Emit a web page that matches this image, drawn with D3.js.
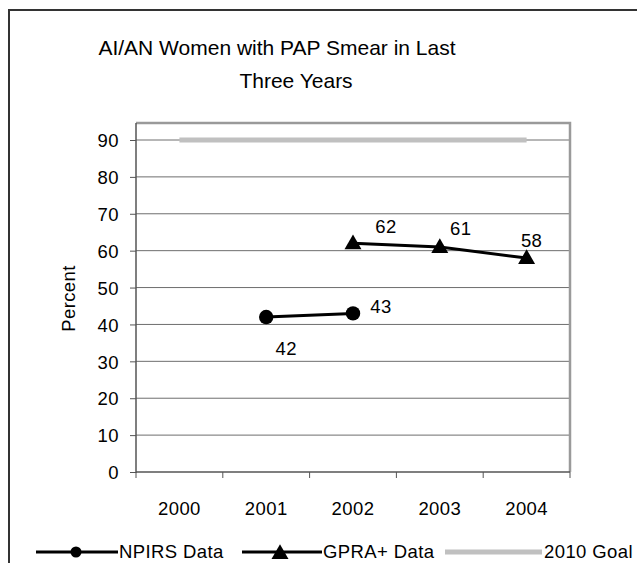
<!DOCTYPE html>
<html lang="en">
<head>
    <meta charset="UTF-8">
    <title>AI/AN Women with PAP Smear</title>
    <script src="https://d3js.org/d3.v7.min.js"></script>
    <style>
        body { margin: 0; background: #fff; }
        text { font-family: Arial, "Liberation Sans", sans-serif; fill: #000; }
        .lbl { font-size: 18.5px; letter-spacing: 0.4px; }
    </style>
</head>
<body>
<script>
    const years = ["2000", "2001", "2002", "2003", "2004"];
    const npirsYears = ["2001", "2002"];
    const npirsValues = [42, 43];
    const gpraYears = ["2002", "2003", "2004"];
    const gpraValues = [62, 61, 58];
    const goalYears = ["2000", "2001", "2002", "2003", "2004"];
    const goalValues = [90, 90, 90, 90, 90];
    const yTicks = [0, 10, 20, 30, 40, 50, 60, 70, 80, 90];
    const titleLines = ["AI/AN Women with PAP Smear in Last", "Three Years"];

    const width = 637, height = 563;
    const plot = {left: 136, right: 570, top: 123, bottom: 472};

    const svg = d3.select("body").append("svg").attr("width", width).attr("height", height);

    // outer chart frame (runs off the right/bottom of the picture)
    svg.append("path")
        .attr("d", `M9,${height + 5}V10H${width + 5}`)
        .attr("fill", "none").attr("stroke", "#333").attr("stroke-width", 2);

    const titleX = [277, 296];
    svg.append("g").selectAll("text")
        .data(titleLines)
        .join("text")
        .attr("x", (d, i) => titleX[i]).attr("y", (d, i) => 55 + i * 33)
        .attr("text-anchor", "middle")
        .style("font-size", "21px")
        .text(d => d);

    const x = d3.scalePoint().domain(years).range([plot.left, plot.right]).padding(0.5);
    const xb = d3.scaleBand().domain(years).range([plot.left, plot.right]);
    const y = d3.scaleLinear().domain([0, 90]).range([plot.bottom, 140]);

    // gridlines
    svg.append("g").selectAll("line")
        .data(yTicks.slice(1))
        .join("line")
        .attr("x1", plot.left).attr("x2", plot.right)
        .attr("y1", d => y(d)).attr("y2", d => y(d))
        .attr("stroke", "#6e6e6e").attr("stroke-width", 1);

    // plot frame top + right
    svg.append("path")
        .attr("d", `M${plot.left},${plot.top}H${plot.right}V${plot.bottom}`)
        .attr("fill", "none").attr("stroke", "#9a9a9a").attr("stroke-width", 2.5);

    // y axis
    const yAxis = svg.append("g")
        .attr("transform", `translate(${plot.left},0)`)
        .call(d3.axisLeft(y).tickValues(yTicks).tickSize(6).tickPadding(11));
    yAxis.select(".domain").attr("d", `M0,${plot.top}V${plot.bottom + 1}`).attr("stroke", "#555").attr("stroke-width", 1.5);
    yAxis.selectAll(".tick line").attr("stroke", "#555");
    yAxis.selectAll("text").attr("class", "lbl").attr("fill", "#000").attr("dy", "0.36em");

    // x axis, ticks at category boundaries
    const xAxis = svg.append("g")
        .attr("transform", `translate(0,${plot.bottom})`);
    xAxis.append("line")
        .attr("x1", plot.left).attr("x2", plot.right)
        .attr("stroke", "#555").attr("stroke-width", 1.5);
    xAxis.selectAll(".xt")
        .data(years.map(d => xb(d)).concat([plot.right]))
        .join("line").attr("class", "xt")
        .attr("x1", d => d).attr("x2", d => d)
        .attr("y1", 0).attr("y2", 6)
        .attr("stroke", "#555");
    xAxis.selectAll(".xl")
        .data(years)
        .join("text").attr("class", "xl lbl")
        .attr("x", d => x(d)).attr("y", 43)
        .attr("text-anchor", "middle")
        .text(d => d);

    svg.append("text")
        .attr("class", "lbl")
        .attr("transform", `translate(75,${(plot.top + plot.bottom) / 2 + 1}) rotate(-90)`)
        .attr("text-anchor", "middle")
        .text("Percent");

    // 2010 goal line
    const line = d3.line().x(d => x(d[0])).y(d => y(d[1]));
    svg.append("path")
        .datum(d3.zip(goalYears, goalValues))
        .attr("d", line)
        .attr("fill", "none").attr("stroke", "#c0c0c0").attr("stroke-width", 5);

    const tri = d3.symbol().type(d3.symbolTriangle).size(125);

    // NPIRS
    const npirs = d3.zip(npirsYears, npirsValues);
    svg.append("path").datum(npirs).attr("d", line)
        .attr("fill", "none").attr("stroke", "#000").attr("stroke-width", 3);
    svg.append("g").selectAll("circle").data(npirs).join("circle")
        .attr("cx", d => x(d[0])).attr("cy", d => y(d[1])).attr("r", 7.2).attr("fill", "#000");

    // GPRA+
    const gpra = d3.zip(gpraYears, gpraValues);
    svg.append("path").datum(gpra).attr("d", line)
        .attr("fill", "none").attr("stroke", "#000").attr("stroke-width", 3);
    svg.append("g").selectAll("path").data(gpra).join("path")
        .attr("d", tri)
        .attr("transform", d => `translate(${x(d[0])},${y(d[1]) + 1})`)
        .attr("fill", "#000");

    // data labels (offsets follow the Excel placement)
    const npirsOff = [[20, 38], [28, 0]];
    const gpraOff = [[33, -10], [21, -12], [5, -11]];
    const labels = svg.append("g").attr("class", "lbl").attr("text-anchor", "middle");
    npirs.forEach((d, i) => labels.append("text")
        .attr("x", x(d[0]) + npirsOff[i][0]).attr("y", y(d[1]) + npirsOff[i][1])
        .text(d[1]));
    gpra.forEach((d, i) => labels.append("text")
        .attr("x", x(d[0]) + gpraOff[i][0]).attr("y", y(d[1]) + gpraOff[i][1])
        .text(d[1]));

    // legend
    const ly = 552;
    const lg = svg.append("g");
    lg.append("line").attr("x1", 36).attr("x2", 118).attr("y1", ly).attr("y2", ly)
        .attr("stroke", "#000").attr("stroke-width", 3);
    lg.append("circle").attr("cx", 76).attr("cy", ly).attr("r", 5.5).attr("fill", "#000");
    lg.append("text").attr("class", "lbl").attr("x", 119).attr("y", ly + 6).text("NPIRS Data");
    lg.append("line").attr("x1", 242).attr("x2", 322).attr("y1", ly).attr("y2", ly)
        .attr("stroke", "#000").attr("stroke-width", 3);
    lg.append("path").attr("d", tri).attr("transform", `translate(280,${ly + 2})`).attr("fill", "#000");
    lg.append("text").attr("class", "lbl").attr("x", 323).attr("y", ly + 6).text("GPRA+ Data");
    lg.append("line").attr("x1", 445).attr("x2", 542).attr("y1", ly).attr("y2", ly)
        .attr("stroke", "#c0c0c0").attr("stroke-width", 5);
    lg.append("text").attr("class", "lbl").attr("x", 544).attr("y", ly + 6).text("2010 Goal");
</script>
</body>
</html>
